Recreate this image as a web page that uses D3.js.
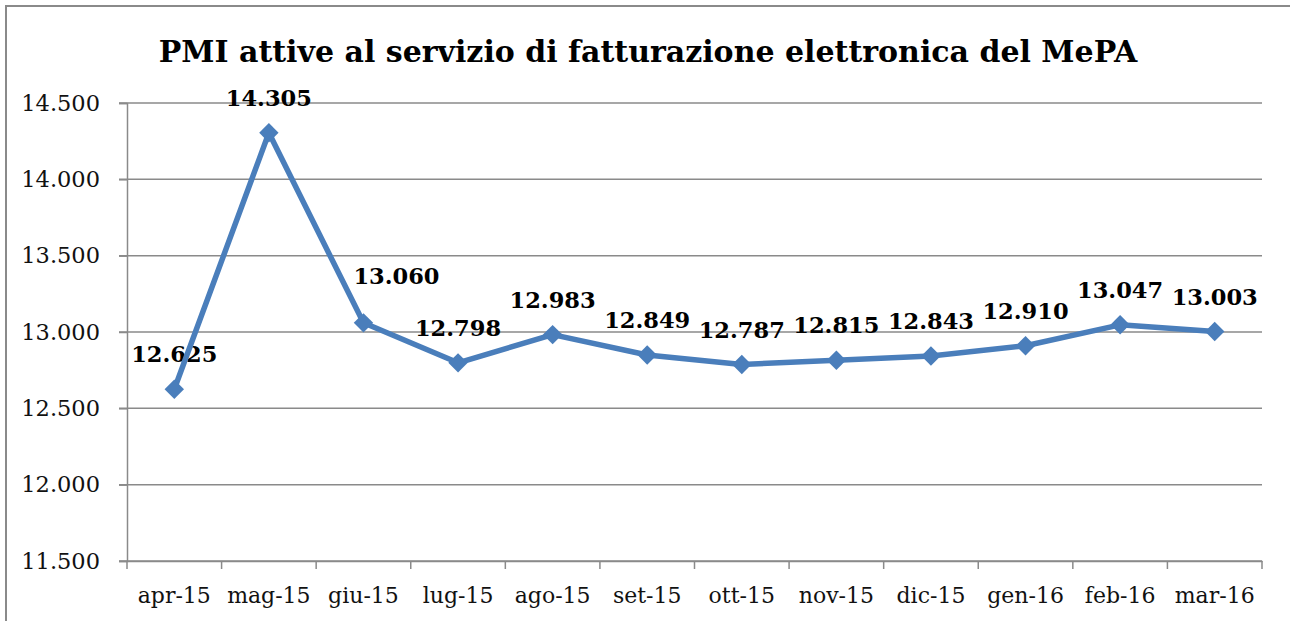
<!DOCTYPE html>
<html lang="it">
  <head>
    <meta charset="UTF-8">
    <script src="https://d3js.org/d3.v7.min.js"></script>
    <title>PMI attive</title>
    <style>
      body { margin: 0; background: #fff; }
      svg { display: block; }
    </style>
  </head>
  <body>
    <div id="chart"></div>
    <script>
      const months = ["apr-15", "mag-15", "giu-15", "lug-15", "ago-15", "set-15",
                      "ott-15", "nov-15", "dic-15", "gen-16", "feb-16", "mar-16"];
      const pmiValues = [12625, 14305, 13060, 12798, 12983, 12849, 12787, 12815, 12843, 12910, 13047, 13003];
      const yTicks = [11500, 12000, 12500, 13000, 13500, 14000, 14500];
      const titleText = "PMI attive al servizio di fatturazione elettronica del MePA";

      const width = 1290;
      const height = 621;
      const margin = { top: 103, right: 28, bottom: 60, left: 127 };
      const blue = "#4a7ebb";
      const gray = "#8a8a8a";

      // number format with dot as thousands separator
      const itFmt = d3.formatLocale({ decimal: ",", thousands: ".", grouping: [3], currency: ["€", ""] }).format(",");

      const svg = d3.select("#chart").append("svg")
                    .attr("width", width)
                    .attr("height", height);

      // outer frame
      svg.append("rect")
         .attr("x", 6).attr("y", 6)
         .attr("width", width + 20).attr("height", height + 20)
         .attr("fill", "none").attr("stroke", gray).attr("stroke-width", 2);

      const xScale = d3.scaleBand()
                       .domain(months)
                       .range([margin.left, width - margin.right]);

      const yScale = d3.scaleLinear()
                       .domain([11500, 14500])
                       .range([height - margin.bottom, margin.top]);

      // gridlines
      svg.append("g").selectAll("line")
         .data(yTicks)
         .join("line")
         .attr("x1", margin.left - 8).attr("x2", width - margin.right)
         .attr("y1", d => yScale(d)).attr("y2", d => yScale(d))
         .attr("stroke", gray).attr("stroke-width", 1.5);

      const yAxis = d3.axisLeft(yScale).tickValues(yTicks).tickFormat(itFmt).tickSize(8).tickPadding(19);
      const gy = svg.append("g")
         .attr("transform", "translate(" + margin.left + ",0)")
         .call(yAxis);
      gy.select(".domain").attr("stroke", gray).attr("stroke-width", 1.5);
      gy.selectAll(".tick line").attr("stroke", gray).attr("stroke-width", 1.5);
      gy.selectAll("text").attr("font-family", "DejaVu Serif").attr("font-size", 22.5).attr("fill", "#111");

      const xAxis = d3.axisBottom(xScale).tickSize(0).tickPadding(26);
      const gx = svg.append("g")
         .attr("transform", "translate(0," + (height - margin.bottom) + ")")
         .call(xAxis);
      gx.select(".domain").attr("stroke", gray).attr("stroke-width", 1.5);
      gx.selectAll("text").attr("font-family", "DejaVu Serif").attr("font-size", 22).attr("fill", "#111");

      // category separator ticks
      const bounds = months.map(m => xScale(m)).concat([width - margin.right]);
      gx.append("g").selectAll("line")
        .data(bounds)
        .join("line")
        .attr("x1", d => d).attr("x2", d => d)
        .attr("y1", 0).attr("y2", 8)
        .attr("stroke", gray).attr("stroke-width", 1.5);

      const cx = d => xScale(d.m) + xScale.bandwidth() / 2;
      const rows = months.map((m, i) => ({ m: m, v: pmiValues[i] }));

      // data labels (giu-15 label was moved by hand in the original)
      const labelShift = { "giu-15": [33, -39] };
      svg.append("g").selectAll("text")
         .data(rows)
         .join("text")
         .attr("x", d => cx(d) + (labelShift[d.m] ? labelShift[d.m][0] : 0))
         .attr("y", d => yScale(d.v) + (labelShift[d.m] ? labelShift[d.m][1] : -27))
         .attr("text-anchor", "middle")
         .attr("font-family", "DejaVu Serif").attr("font-weight", "bold").attr("font-size", 22.5)
         .attr("fill", "#000")
         .text(d => itFmt(d.v));

      const line = d3.line().x(cx).y(d => yScale(d.v));
      svg.append("path")
         .datum(rows)
         .attr("d", line)
         .attr("fill", "none")
         .attr("stroke", blue).attr("stroke-width", 5.5)
         .attr("stroke-linejoin", "round");

      svg.append("g").selectAll("path")
         .data(rows)
         .join("path")
         .attr("transform", d => "translate(" + cx(d) + "," + yScale(d.v) + ")")
         .attr("d", d3.symbol(d3.symbolDiamond2, 240))
         .attr("fill", blue);

      svg.append("text")
         .attr("x", 648).attr("y", 62)
         .attr("text-anchor", "middle")
         .attr("font-family", "DejaVu Serif").attr("font-weight", "bold").attr("font-size", 30)
         .attr("fill", "#000")
         .text(titleText);
    </script>
  </body>
</html>
